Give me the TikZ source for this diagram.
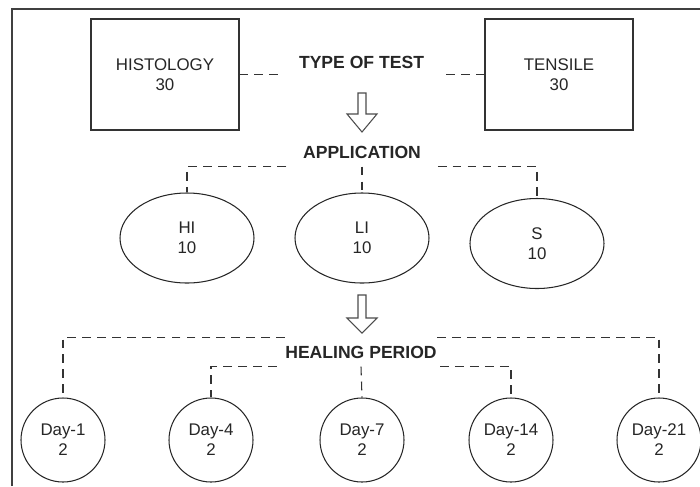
\documentclass[tikz,border=0pt]{standalone}
\usepackage{fontspec}
\setmainfont{Liberation Sans}
\usetikzlibrary{shapes.geometric}

\tikzset{
  box/.style={draw=black!80,line width=0.6pt,minimum width=2.96cm,minimum height=2.22cm,align=center},
  oval/.style={draw=black!85,line width=0.6pt,ellipse,minimum width=2.68cm,minimum height=1.8cm,align=center,inner sep=0pt},
  daycircle/.style={draw=black!85,line width=0.6pt,circle,minimum size=1.68cm,align=center,inner sep=0pt},
  head/.style={font=\bfseries,inner ysep=0.16cm},
  link/.style={draw=black!80,line width=0.6pt,dash pattern=on 5pt off 3.5pt},
  hollow/.style={draw=black!70,line width=0.6pt,fill=white}
}

\begin{document}
\begin{tikzpicture}[font=\fontsize{9.6}{11.3}\selectfont,text=black!85]
  \useasboundingbox (0,0) rectangle (14,-9.72);

  \draw[black!75,line width=0.8pt] (0.24,-9.72) -- (0.24,-0.18) -- (14,-0.18);

  \node[box] at (3.3,-1.49) (hist) {HISTOLOGY\\30};
  \node[box] at (11.18,-1.49) (tens) {TENSILE\\30};
  \node[head,inner xsep=0.38cm] at (7.23,-1.24) (type) {TYPE OF TEST};

  \draw[link] (hist.east) -- (hist.east -| type.west);
  \draw[link] (tens.west) -- (tens.west -| type.east);

  \draw[hollow] (7.16,-1.86) -- ++(0.16,0) -- ++(0,-0.42) -- ++(0.22,0) -- ++(-0.3,-0.36) -- ++(-0.3,0.36) -- ++(0.22,0) -- cycle;

  \node[head,inner xsep=0.33cm] at (7.24,-3.04) (app) {APPLICATION};

  \node[oval] at (3.74,-4.76) (hi) {HI\\10};
  \node[oval] at (7.24,-4.76) (li) {LI\\10};
  \node[oval] at (10.74,-4.87) (s) {S\\10};

  \draw[link] (app.south west) -| (hi.north);
  \draw[link] (app.south) -- (li.north);
  \draw[link] (app.south east) -| (s.north);

  \draw[hollow] (7.16,-5.9) -- ++(0.16,0) -- ++(0,-0.46) -- ++(0.22,0) -- ++(-0.3,-0.3) -- ++(-0.3,0.3) -- ++(0.22,0) -- cycle;

  \node[head,inner xsep=0pt] at (7.22,-7.04) (heal) {HEALING PERIOD};

  \node[daycircle] at (1.26,-8.8) (d1) {Day-1\\2};
  \node[daycircle] at (4.22,-8.8) (d4) {Day-4\\2};
  \node[daycircle] at (7.24,-8.8) (d7) {Day-7\\2};
  \node[daycircle] at (10.22,-8.8) (d14) {Day-14\\2};
  \node[daycircle] at (13.18,-8.8) (d21) {Day-21\\2};

  \draw[link] (heal.north west) -| (d1.north);
  \draw[link] (heal.north east) -| (d21.north);
  \draw[link] ([xshift=-0.16cm]heal.south west) -| (d4.north);
  \draw[link] ([xshift=0.06cm]heal.south east) -| (d14.north);
  \draw[link] (heal.south) -- (d7.north);
\end{tikzpicture}
\end{document}
